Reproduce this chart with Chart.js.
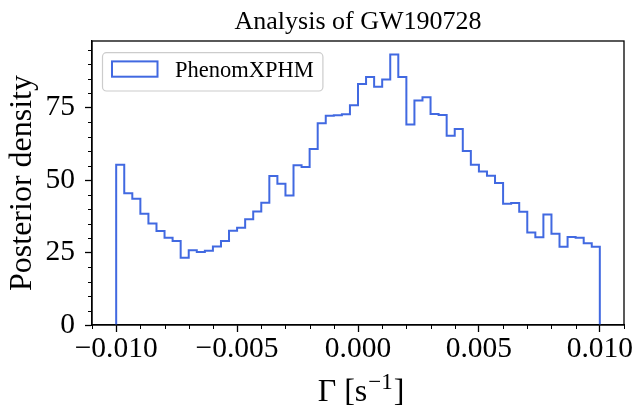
<!DOCTYPE html>
<html><head><meta charset="utf-8">
<script src="https://cdn.jsdelivr.net/npm/chart.js@4.4.0/dist/chart.umd.min.js"></script>
<style>html,body{margin:0;padding:0;background:#fff;} #wrap{width:636px;height:405px;position:relative;}</style>
</head><body><div id="wrap"><canvas id="c" width="636" height="405"></canvas></div>
<script>
// ---- data ----
const titleText = 'Analysis of GW190728';
const seriesLabel = 'PhenomXPHM';
const yAxisLabel = 'Posterior density';
const xLabelMain = 'Γ [s';
const xLabelSup = '−1';
const xLabelEnd = ']';
const binRange = [-0.010, 0.010];
const binCount = 60;
const density = [
  55.3, 45.5, 43.6, 38.4, 35.0, 32.4, 30.1, 29.0, 23.2, 25.8,
  25.2, 25.6, 27.1, 29.0, 32.5, 33.6, 36.5, 39.2, 42.2, 51.4,
  48.7, 44.7, 55.1, 54.5, 60.7, 69.6, 72.2, 72.4, 72.7, 75.8,
  83.2, 85.6, 82.2, 84.7, 93.3, 85.6, 69.2, 77.5, 78.6, 72.8,
  72.5, 65.3, 67.6, 60.0, 55.3, 53.0, 51.5, 49.0, 41.8, 42.1,
  39.1, 31.9, 30.3, 38.1, 31.5, 27.0, 30.4, 30.1, 28.2, 27.0
];
const xRange = [-0.011, 0.011];
const yRange = [0, 98];
const xTickValues = [-0.010, -0.005, 0.000, 0.005, 0.010];
const xTickLabels = ['−0.010', '−0.005', '0.000', '0.005', '0.010'];
const xMinorTicks = [-0.011, -0.009, -0.008, -0.007, -0.006, -0.004, -0.003, -0.002, -0.001,
  0.001, 0.002, 0.003, 0.004, 0.006, 0.007, 0.008, 0.009, 0.011];
const yTickValues = [0, 25, 50, 75];
const yTickLabels = ['0', '25', '50', '75'];
const yMinorTicks = [5, 10, 15, 20, 30, 35, 40, 45, 55, 60, 65, 70, 80, 85, 90, 95];

// ---- build step outline from bins ----
const binWidth = (binRange[1] - binRange[0]) / binCount;
const edges = density.map((_, i) => binRange[0] + i * binWidth).concat([binRange[1]]);
const points = [{x: edges[0], y: 0}];
density.forEach((v, i) => points.push({x: edges[i], y: v}));
points.push({x: edges[binCount], y: density[binCount - 1]});
points.push({x: edges[binCount], y: 0});

const LINE = '#4169E1';
const SERIF = "'Liberation Serif', 'Times New Roman', serif";

const decor = {
  id: 'decor',
  afterDraw(chart) {
    const ctx = chart.ctx, a = chart.chartArea;
    const xs = chart.scales.x, ys = chart.scales.y;
    ctx.save();
    // spines
    ctx.strokeStyle = '#000'; ctx.lineWidth = 1.3;
    ctx.strokeRect(a.left, a.top, a.right - a.left, a.bottom - a.top);
    // minor ticks
    ctx.lineWidth = 1;
    ctx.beginPath();
    xMinorTicks.forEach(v => { const px = Math.round(xs.getPixelForValue(v)) + 0.5; ctx.moveTo(px, a.bottom); ctx.lineTo(px, a.bottom + 4); });
    yMinorTicks.forEach(v => { const py = Math.round(ys.getPixelForValue(v)) + 0.5; ctx.moveTo(a.left, py); ctx.lineTo(a.left - 4, py); });
    ctx.stroke();
    // title
    const cx = (a.left + a.right) / 2;
    ctx.fillStyle = '#000';
    ctx.textAlign = 'center'; ctx.textBaseline = 'alphabetic';
    ctx.font = '26px ' + SERIF;
    ctx.fillText(titleText, cx, 29);
    // x-axis label with superscript
    ctx.font = '32px ' + SERIF;
    const w1 = ctx.measureText(xLabelMain).width, w3 = ctx.measureText(xLabelEnd).width;
    ctx.font = '23px ' + SERIF;
    const w2 = ctx.measureText(xLabelSup).width;
    let x0 = cx + 3 - (w1 + w2 + w3 + 2) / 2;
    const base = 401;
    ctx.textAlign = 'left';
    ctx.font = '32px ' + SERIF; ctx.fillText(xLabelMain, x0, base);
    ctx.font = '23px ' + SERIF; ctx.fillText(xLabelSup, x0 + w1 + 1, base - 12);
    ctx.font = '32px ' + SERIF; ctx.fillText(xLabelEnd, x0 + w1 + w2 + 2, base);
    // legend
    const lx = a.left + 10.5, ly = a.top + 11.7, lw = 220.4, lh = 38.3;
    ctx.beginPath();
    ctx.roundRect(lx, ly, lw, lh, 4);
    ctx.fillStyle = 'rgba(255,255,255,0.8)'; ctx.fill();
    ctx.strokeStyle = '#cccccc'; ctx.lineWidth = 1.2; ctx.stroke();
    ctx.strokeStyle = LINE; ctx.lineWidth = 2;
    ctx.strokeRect(lx + 9.5, ly + 8.7, 45.5, 15.3);
    ctx.fillStyle = '#000'; ctx.font = '22.5px ' + SERIF;
    ctx.textAlign = 'left'; ctx.textBaseline = 'alphabetic';
    ctx.fillText(seriesLabel, lx + 72.5, ly + 24.6);
    ctx.restore();
  }
};

function build() {
  Chart.defaults.color = '#000';
  new Chart(document.getElementById('c'), {
    type: 'line',
    data: { datasets: [{
      label: seriesLabel, data: points, stepped: 'before',
      borderColor: LINE, borderWidth: 2, pointRadius: 0, fill: false, tension: 0
    }]},
    options: {
      responsive: false, animation: false, devicePixelRatio: 1,
      layout: { padding: { top: 41, right: 12, left: 0, bottom: 0 } },
      plugins: { legend: { display: false }, title: { display: false }, tooltip: { enabled: false } },
      scales: {
        x: {
          type: 'linear', min: xRange[0], max: xRange[1],
          afterFit(s) { s.height = 80; },
          afterBuildTicks(s) { s.ticks = xTickValues.map(v => ({ value: v })); },
          ticks: { callback: (v, i) => xTickLabels[i], font: { family: SERIF, size: 29.5, lineHeight: 1.0 }, padding: 2, maxRotation: 0, autoSkip: false },
          grid: { display: true, drawOnChartArea: false, drawTicks: true, tickLength: 7, tickWidth: 1.3, tickColor: '#000' },
          border: { display: true, color: '#000', width: 1.3 }
        },
        y: {
          type: 'linear', min: yRange[0], max: yRange[1],
          afterFit(s) { s.width = 92; },
          afterBuildTicks(s) { s.ticks = yTickValues.map(v => ({ value: v })); },
          ticks: { callback: (v, i) => yTickLabels[i], font: { family: SERIF, size: 29.5, lineHeight: 1.0 }, padding: 10, autoSkip: false },
          grid: { display: true, drawOnChartArea: false, drawTicks: true, tickLength: 7, tickWidth: 1.3, tickColor: '#000' },
          border: { display: true, color: '#000', width: 1.3 },
          title: { display: true, text: yAxisLabel, font: { family: SERIF, size: 32, lineHeight: 1.2 }, padding: { top: 3, bottom: 0 } }
        }
      }
    },
    plugins: [decor]
  });
}
if (document.fonts && document.fonts.load) {
  Promise.all([document.fonts.load("32px 'Liberation Serif'")]).then(build, build);
} else build();
</script>
</body></html>
